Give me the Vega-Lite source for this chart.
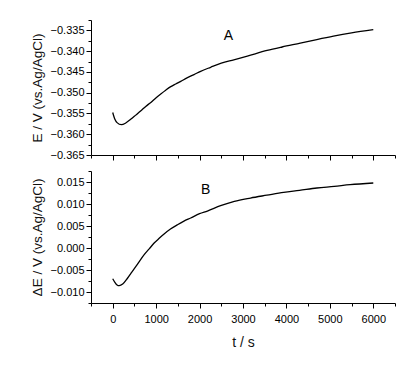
{
  "$schema": "https://vega.github.io/schema/vega-lite/v6.json",
  "padding": {"left": 30, "top": 14, "right": 5, "bottom": 5},
  "background": "white",
  "spacing": 4,
  "config": {
    "view": {"stroke": null},
    "font": "Liberation Sans, Arial, sans-serif",
    "axis": {
      "grid": false,
      "domainColor": "#000",
      "domainWidth": 1,
      "tickColor": "#000",
      "tickWidth": 1,
      "tickCount": 100,
      "labelColor": "#000",
      "titleColor": "#111",
      "labelFont": "Liberation Sans, Arial, sans-serif",
      "labelFontSize": 11,
      "labelOverlap": false,
      "titleFontWeight": "normal"
    }
  },
  "datasets": {
    "potential": [
      {"t": 0, "v": -0.35476}, {"t": 50, "v": -0.3564}, {"t": 100, "v": -0.3572}, {"t": 200, "v": -0.3577},
      {"t": 300, "v": -0.3573}, {"t": 420, "v": -0.35636}, {"t": 530, "v": -0.3554}, {"t": 649, "v": -0.35435},
      {"t": 760, "v": -0.3533}, {"t": 878, "v": -0.35234}, {"t": 1000, "v": -0.3512}, {"t": 1106, "v": -0.35031},
      {"t": 1220, "v": -0.3494}, {"t": 1337, "v": -0.34855}, {"t": 1450, "v": -0.3479}, {"t": 1567, "v": -0.34726},
      {"t": 1700, "v": -0.3465}, {"t": 1872, "v": -0.34564}, {"t": 2025, "v": -0.34485}, {"t": 2255, "v": -0.34388},
      {"t": 2500, "v": -0.3429}, {"t": 2789, "v": -0.34209}, {"t": 3100, "v": -0.3412}, {"t": 3555, "v": -0.33984},
      {"t": 3900, "v": -0.339}, {"t": 4319, "v": -0.33807}, {"t": 4700, "v": -0.3372}, {"t": 5083, "v": -0.33638},
      {"t": 5500, "v": -0.3356}, {"t": 6000, "v": -0.33483}
    ],
    "delta": [
      {"t": 0, "v": -0.00698}, {"t": 50, "v": -0.0078}, {"t": 100, "v": -0.0084}, {"t": 150, "v": -0.00857},
      {"t": 230, "v": -0.0082}, {"t": 344, "v": -0.00682}, {"t": 440, "v": -0.0055}, {"t": 534, "v": -0.00418},
      {"t": 630, "v": -0.0028}, {"t": 725, "v": -0.00152}, {"t": 840, "v": -0.0002}, {"t": 954, "v": 0.00113},
      {"t": 1070, "v": 0.0022}, {"t": 1183, "v": 0.00318}, {"t": 1330, "v": 0.0043}, {"t": 1491, "v": 0.00529},
      {"t": 1640, "v": 0.0061}, {"t": 1796, "v": 0.00682}, {"t": 2000, "v": 0.0078}, {"t": 2179, "v": 0.0084},
      {"t": 2484, "v": 0.00961}, {"t": 2800, "v": 0.0106}, {"t": 3172, "v": 0.01136}, {"t": 3550, "v": 0.012},
      {"t": 3936, "v": 0.01264}, {"t": 4300, "v": 0.0131}, {"t": 4702, "v": 0.01364}, {"t": 5100, "v": 0.014},
      {"t": 5466, "v": 0.01439}, {"t": 6000, "v": 0.01477}
    ],
    "labelA": [{"t": 2667, "v": -0.33625, "label": "A"}],
    "labelB": [{"t": 2140, "v": 0.01309, "label": "B"}]
  },
  "vconcat": [
    {
      "width": 304,
      "height": 135,
      "layer": [
        {
          "data": {"name": "potential"},
          "mark": {"type": "line", "color": "#000", "strokeWidth": 1.3, "interpolate": "monotone"},
          "encoding": {
            "x": {
              "field": "t", "type": "quantitative",
              "scale": {"domain": [-500, 6500], "nice": false, "zero": false},
              "axis": {
                "title": null, "labels": false, "tickCount": 100,
                "values": [-500, 0, 500, 1000, 1500, 2000, 2500, 3000, 3500, 4000, 4500, 5000, 5500, 6000, 6500],
                "tickSize": {"condition": {"test": "datum.value % 1000 == 0", "value": 5}, "value": 3}
              }
            },
            "y": {
              "field": "v", "type": "quantitative",
              "scale": {"domain": [-0.365, -0.3325], "nice": false, "zero": false},
              "axis": {
                "title": "E / V (vs.Ag/AgCl)",
                "titleFont": "Liberation Sans, Arial, sans-serif",
                "titleFontSize": 13.5,
                "titlePadding": 6,
                "labelPadding": 2,
                "labelOverlap": false,
                "tickCount": 100,
                "values": [-0.365, -0.3625, -0.36, -0.3575, -0.355, -0.3525, -0.35, -0.3475, -0.345, -0.3425, -0.34, -0.3375, -0.335, -0.3325],
                "labelExpr": "abs(datum.value*200 - round(datum.value*200)) < 0.001 ? format(datum.value, '.3f') : ''",
                "tickSize": {"condition": {"test": "abs(datum.value*200 - round(datum.value*200)) < 0.001", "value": 5}, "value": 3}
              }
            }
          }
        },
        {
          "data": {"name": "labelA"},
          "mark": {"type": "text", "fontSize": 14, "color": "#000", "align": "center", "baseline": "middle"},
          "encoding": {
            "x": {"field": "t", "type": "quantitative"},
            "y": {"field": "v", "type": "quantitative"},
            "text": {"field": "label"}
          }
        }
      ]
    },
    {
      "width": 304,
      "height": 132,
      "layer": [
        {
          "data": {"name": "delta"},
          "mark": {"type": "line", "color": "#000", "strokeWidth": 1.3, "interpolate": "monotone"},
          "encoding": {
            "x": {
              "field": "t", "type": "quantitative",
              "scale": {"domain": [-500, 6500], "nice": false, "zero": false},
              "axis": {
                "title": "t / s",
                "titleFontSize": 14,
                "titlePadding": 11,
                "labelPadding": 5,
                "labelOverlap": false,
                "tickCount": 100,
                "values": [-500, 0, 500, 1000, 1500, 2000, 2500, 3000, 3500, 4000, 4500, 5000, 5500, 6000, 6500],
                "labelExpr": "datum.value % 1000 == 0 ? format(datum.value, 'd') : ''",
                "tickSize": {"condition": {"test": "datum.value % 1000 == 0", "value": 5}, "value": 3}
              }
            },
            "y": {
              "field": "v", "type": "quantitative",
              "scale": {"domain": [-0.0125, 0.0175], "nice": false, "zero": false},
              "axis": {
                "title": "ΔE / V (vs.Ag/AgCl)",
                "titleFont": "Liberation Sans, Arial, sans-serif",
                "titleFontSize": 13.5,
                "titlePadding": 6,
                "labelPadding": 2,
                "labelOverlap": false,
                "tickCount": 100,
                "values": [-0.0125, -0.01, -0.0075, -0.005, -0.0025, 0, 0.0025, 0.005, 0.0075, 0.01, 0.0125, 0.015, 0.0175],
                "labelExpr": "abs(datum.value*200 - round(datum.value*200)) < 0.001 ? format(datum.value, '.3f') : ''",
                "tickSize": {"condition": {"test": "abs(datum.value*200 - round(datum.value*200)) < 0.001", "value": 5}, "value": 3}
              }
            }
          }
        },
        {
          "data": {"name": "labelB"},
          "mark": {"type": "text", "fontSize": 14, "color": "#000", "align": "center", "baseline": "middle"},
          "encoding": {
            "x": {"field": "t", "type": "quantitative"},
            "y": {"field": "v", "type": "quantitative"},
            "text": {"field": "label"}
          }
        }
      ]
    }
  ]
}
